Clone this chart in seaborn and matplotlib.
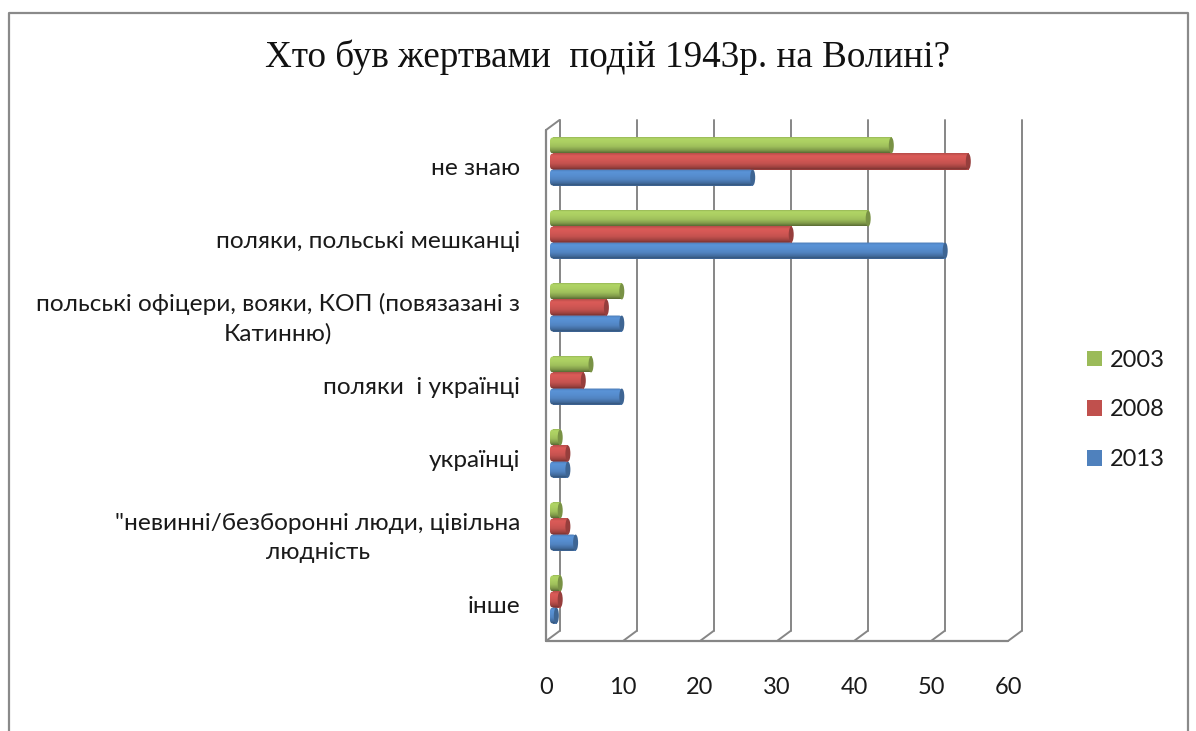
import numpy as np
import pandas as pd
import matplotlib
matplotlib.use("Agg")
import matplotlib.pyplot as plt
import seaborn as sns
from matplotlib.lines import Line2D
from matplotlib.patches import Ellipse, FancyBboxPatch
from matplotlib.transforms import Affine2D, IdentityTransform
from matplotlib.colors import to_rgb

categories = ["не знаю", "поляки, польські мешканці",
              "польські офіцери, вояки, КОП (повязазані з\nКатинню)",
              "поляки  і українці", "українці",
              "\"невинні/безборонні люди, цівільна\nлюдність", "інше"]
values_2003 = [44, 41, 9, 5, 1, 1, 1]
values_2008 = [54, 31, 7, 4, 2, 2, 1]
values_2013 = [26, 51, 9, 9, 2, 3, 0.5]
years = ["2003", "2008", "2013"]
colors = ["#9BBB59", "#C0504D", "#4F81BD"]
x_ticks = [0, 10, 20, 30, 40, 50, 60]
title = "Хто був жертвами  подій 1943р. на Волині?"

df = pd.DataFrame({
    "cat": categories * 3,
    "year": sum([[y] * len(categories) for y in years], []),
    "val": values_2003 + values_2008 + values_2013,
})

sns.set_theme(style="white")
plt.rcParams["font.family"] = ["Lato", "Open Sans", "DejaVu Sans"]

W, H = 1196, 731
fig = plt.figure(figsize=(W / 100, H / 100), dpi=100, facecolor="white")
L, R, T, B = 546, 1008, 130, 641
ax = fig.add_axes([L / W, 1 - B / H, (R - L) / W, (B - T) / H])
sns.barplot(data=df, y="cat", x="val", hue="year", hue_order=years, palette=colors,
            order=categories, orient="h", width=0.66, gap=0, saturation=1,
            linewidth=0, ax=ax, errorbar=None, zorder=3)
ax.set_xlim(0, 60)
ax.set_ylim(6.5, -0.5)
ax.set_xlabel("")
ax.set_ylabel("")
ax.set_xticks(x_ticks)
for s in ax.spines.values():
    s.set_visible(False)
ax.tick_params(axis="x", length=0, pad=26, labelsize=17, labelcolor="#1a1a1a")
ax.tick_params(axis="y", length=0, pad=18.5, labelsize=17.6, labelcolor="#1a1a1a")
for lab in ax.get_yticklabels():
    lab.set_multialignment("center")
    lab.set_linespacing(1.5)

# 3-D box: back wall, floor and side wall in offset planes
GRID = "#868686"
ident = IdentityTransform()
for t in x_ticks:
    p0 = ax.transData.transform((t, 6.5))
    p1 = p0 + np.array([13.5, 10])
    ax.add_line(Line2D([p1[0], p1[0]], [p1[1], p1[1] + (B - T)], transform=ident,
                       color=GRID, lw=1.4, zorder=1, clip_on=False))
    ax.add_line(Line2D([p0[0], p1[0]], [p0[1], p1[1]], transform=ident,
                       color=GRID, lw=1.4, zorder=1, clip_on=False))
f0 = ax.transData.transform((0, 6.5))
f1 = ax.transData.transform((60, 6.5))
ax.add_line(Line2D([f0[0], f1[0]], [f0[1], f1[1]], transform=ident, color=GRID, lw=1.6,
                   zorder=2, clip_on=False))
t0 = ax.transData.transform((0, -0.5))
ax.add_line(Line2D([f0[0], t0[0]], [f0[1], t0[1]], transform=ident, color=GRID, lw=1.6,
                   zorder=2, clip_on=False))
ax.add_line(Line2D([t0[0], t0[0] + 13.5], [t0[1], t0[1] + 10], transform=ident, color=GRID,
                   lw=1.4, zorder=2, clip_on=False))

# Cylinder shading on top of the seaborn bars
def shade(c):
    rgb = np.array(to_rgb(c))
    stops = np.array([0.0, 0.15, 0.38, 0.62, 0.85, 1.0])
    mult = np.array([0.95, 1.14, 1.10, 1.02, 0.82, 0.58])
    pos = np.linspace(0, 1, 32)
    return np.clip(np.stack([np.interp(pos, stops, rgb[i] * mult) for i in range(3)], axis=1),
                   0, 1)[:, None, :]

shift = Affine2D().translate(7, 5)
for cont, col in zip(ax.containers, colors):
    for bar in cont:
        x0, w = bar.get_x(), bar.get_width()
        y0, h = bar.get_y(), bar.get_height()
        a = ax.transData.transform((x0, y0 + h)) + np.array([7, 5])
        b = ax.transData.transform((x0 + w, y0)) + np.array([7, 5])
        bar.set_transform(ax.transData + shift)
        clip = FancyBboxPatch((a[0] - 3, a[1]), b[0] - a[0] + 3, b[1] - a[1],
                              boxstyle="round,pad=0,rounding_size=3.5",
                              transform=ident, facecolor="none", edgecolor="none")
        ax.add_patch(clip)
        clip.set_clip_on(False)
        im = ax.imshow(shade(col), extent=(a[0] - 3, b[0], a[1], b[1]), origin="upper",
                       aspect="auto", transform=ident, zorder=3.5, interpolation="bilinear")
        im.set_clip_path(clip)
        cap = Ellipse((b[0] - 0.5, (a[1] + b[1]) / 2), 5, b[1] - a[1], transform=ident,
                      facecolor=np.array(to_rgb(col)) * 0.78, edgecolor="none", zorder=4,
                      clip_on=False)
        ax.add_patch(cap)
ax.set_xlim(0, 60)
ax.set_ylim(6.5, -0.5)

sns.move_legend(ax, loc="center left", bbox_to_anchor=(1087 / W, 1 - 410 / H),
                bbox_transform=fig.transFigure, frameon=False, title=None, fontsize=17,
                labelspacing=1.22, handlelength=0.63, handleheight=0.63, handletextpad=0.34,
                borderpad=0, borderaxespad=0, labelcolor="#1a1a1a")

fig.text(607 / W, 1 - 57.5 / H, title, ha="center", va="center", fontsize=26.7,
         family=["Liberation Serif"], color="#111111")

# Outer chart frame
fig.add_artist(Line2D([8.5 / W, 8.5 / W, 1188 / W, 1188 / W],
                      [0, 1 - 12.5 / H, 1 - 12.5 / H, 0], transform=fig.transFigure,
                      color="#8a8a8a", lw=1.6))
fig.savefig("out.png", dpi=100, facecolor="white")
